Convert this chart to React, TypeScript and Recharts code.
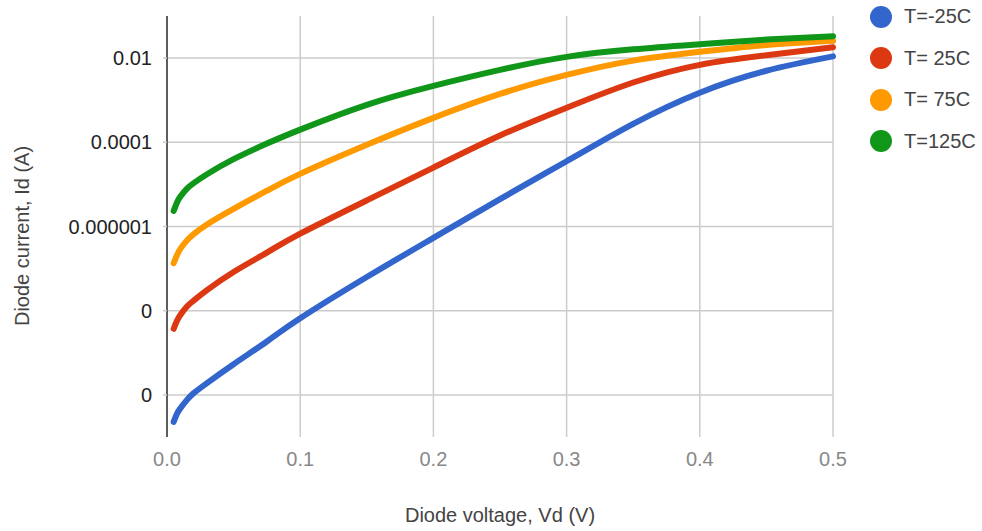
import { LineChart, Line, XAxis, YAxis, CartesianGrid, Legend, Label } from "recharts";

// diode voltage (V)
const voltage = [0.005, 0.0075, 0.01, 0.015, 0.02, 0.03, 0.05, 0.075, 0.1, 0.15, 0.2, 0.25, 0.3, 0.35, 0.4, 0.45, 0.5];

// diode current (A) per temperature
const currentM25 = [2.29e-11, 3.55e-11, 4.79e-11, 7.59e-11, 1.1e-10, 1.91e-10, 5.37e-10, 1.86e-9, 6.61e-9, 6.31e-8, 5.37e-7, 4.47e-6, 3.55e-5, 2.75e-4, 1.51e-3, 5.01e-3, 1.1e-2];
const current25 = [3.72e-9, 5.75e-9, 7.94e-9, 1.26e-8, 1.74e-8, 3.09e-8, 8.32e-8, 2.4e-7, 6.76e-7, 4.17e-6, 2.51e-5, 1.45e-4, 6.61e-4, 2.63e-3, 6.92e-3, 1.17e-2, 1.82e-2];
const current75 = [1.35e-7, 2.09e-7, 2.95e-7, 4.68e-7, 6.61e-7, 1.12e-6, 2.63e-6, 7.08e-6, 1.78e-5, 8.71e-5, 3.8e-4, 1.41e-3, 3.98e-3, 8.71e-3, 1.41e-2, 2.04e-2, 2.57e-2];
const current125 = [2.34e-6, 3.72e-6, 5.13e-6, 7.94e-6, 1.07e-5, 1.74e-5, 3.98e-5, 9.33e-5, 2.0e-4, 7.76e-4, 2.19e-3, 5.25e-3, 1.07e-2, 1.62e-2, 2.14e-2, 2.75e-2, 3.31e-2];

const seriesNames = ["T=-25C", "T= 25C", "T= 75C", "T=125C"];
const seriesColors = ["#3366cc", "#dc3912", "#ff9900", "#109618"];

const xTicks = [0, 0.1, 0.2, 0.3, 0.4, 0.5];
const yTicks = [1e-10, 1e-8, 1e-6, 1e-4, 1e-2];
const yTickLabels = ["0", "0", "0.000001", "0.0001", "0.01"];

const data = voltage.map((v, i) => ({
  v,
  s0: currentM25[i],
  s1: current25[i],
  s2: current75[i],
  s3: current125[i],
}));

const FONT = "Arial, 'Liberation Sans', sans-serif";

const LegendList = () => (
  <div style={{ fontFamily: FONT }}>
    {seriesNames.map((name, i) => (
      <div key={name} style={{ display: "flex", alignItems: "center", height: 41.5 }}>
        <span
          style={{
            display: "inline-block",
            width: 22,
            height: 22,
            borderRadius: "50%",
            background: seriesColors[i],
            marginRight: 12,
          }}
        />
        <span style={{ fontSize: 20, color: "#444" }}>{name}</span>
      </div>
    ))}
  </div>
);

export default function App() {
  return (
    <div style={{ position: "absolute", left: 0, top: 0, width: 982, height: 531, background: "#fff" }}>
      <LineChart
        width={982}
        height={531}
        data={data}
        margin={{ top: 16, right: 149, bottom: 64, left: 67 }}
        style={{ fontFamily: FONT }}
      >
        <CartesianGrid stroke="#cccccc" strokeWidth={1.5} horizontalValues={yTicks} verticalValues={xTicks} />
        <XAxis
          type="number"
          dataKey="v"
          domain={[0, 0.5]}
          ticks={xTicks}
          tickFormatter={(v: number) => v.toFixed(1)}
          axisLine={false}
          tickLine={false}
          tickSize={0}
          tickMargin={15}
          height={30}
          tick={{ fill: "#888", fontSize: 20 }}
        >
          <Label
            content={() => (
              <text x={500} y={522} textAnchor="middle" fill="#444" fontSize={20} fontFamily={FONT}>
                Diode voltage, Vd (V)
              </text>
            )}
          />
        </XAxis>
        <YAxis
          type="number"
          scale="log"
          domain={[1e-11, 0.1]}
          allowDataOverflow
          ticks={yTicks}
          tickFormatter={(v: number) => yTickLabels[yTicks.indexOf(v)] ?? ""}
          width={100}
          axisLine={{ stroke: "#333", strokeWidth: 1.5 }}
          tickLine={{ stroke: "#ccc", strokeWidth: 1.5 }}
          tickSize={4}
          tickMargin={11}
          tick={{ fill: "#222", fontSize: 20 }}
        >
          <Label
            content={() => (
              <text
                x={29}
                y={236}
                textAnchor="middle"
                fill="#444"
                fontSize={20}
                fontFamily={FONT}
                transform="rotate(-90 29 236)"
              >
                Diode current, Id (A)
              </text>
            )}
          />
        </YAxis>
        <Legend
          layout="vertical"
          align="center"
          verticalAlign="middle"
          wrapperStyle={{ left: 870, top: -4, width: 112 }}
          content={() => <LegendList />}
        />
        {seriesNames.map((name, i) => (
          <Line
            key={name}
            name={name}
            type="natural"
            dataKey={`s${i}`}
            stroke={seriesColors[i]}
            strokeWidth={6}
            strokeLinecap="round"
            dot={false}
            isAnimationActive={false}
          />
        ))}
      </LineChart>
    </div>
  );
}
